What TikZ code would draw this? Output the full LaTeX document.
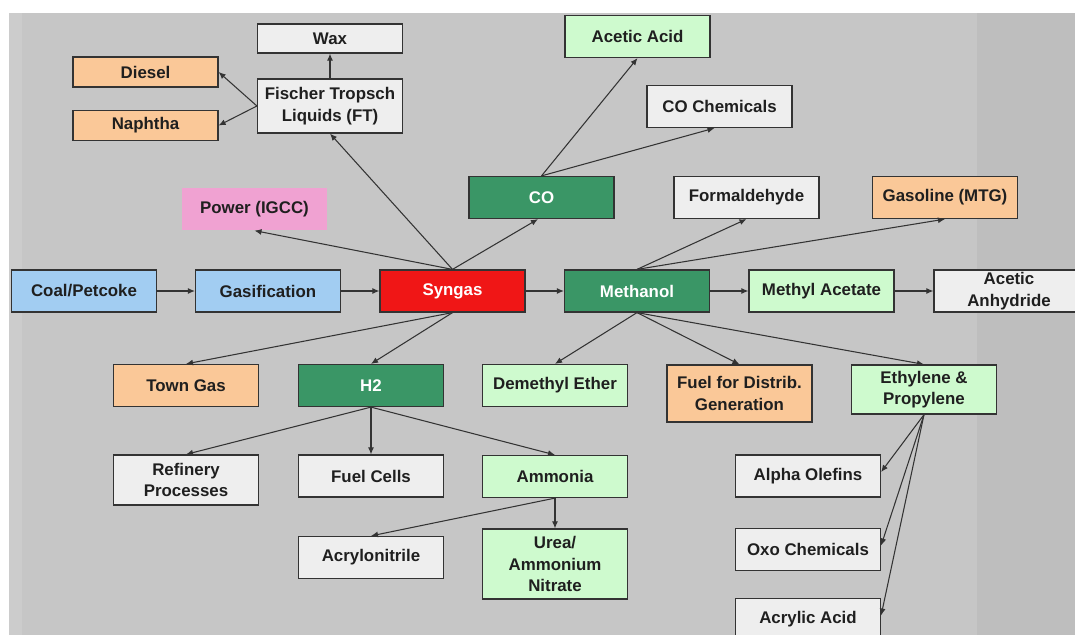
\documentclass[tikz,border=0pt]{standalone}
\usepackage{fontspec}
\setmainfont{Liberation Sans}
\usepackage{tikz}
\usetikzlibrary{arrows.meta}

\definecolor{bgray}{RGB}{198,198,198}
\definecolor{bglight}{RGB}{204,204,204}
\definecolor{bgdark}{RGB}{190,190,190}
\definecolor{feedblue}{RGB}{162,205,242}
\definecolor{peach}{RGB}{250,200,152}
\definecolor{palegreen}{RGB}{206,250,206}
\definecolor{deepgreen}{RGB}{58,150,102}
\definecolor{synred}{RGB}{240,22,22}
\definecolor{powerpink}{RGB}{240,162,210}
\definecolor{offwhite}{RGB}{238,238,238}

\begin{document}
\begin{tikzpicture}[
  x=0.02cm, y=-0.02cm,
  every node/.style={rectangle, draw=black!80, line width=0.7pt, minimum width=2.9cm,
    minimum height=0.84cm, inner sep=1pt, align=center, text=black!88,
    font=\bfseries\fontsize{9.6}{12.3}\selectfont},
  feed/.style={fill=feedblue},
  fuel/.style={fill=peach},
  chem/.style={fill=palegreen},
  hub/.style={fill=deepgreen, text=white},
  plain/.style={fill=offwhite},
  arr/.style={draw=black!80, line width=0.6pt, -{Latex[length=4pt,width=3.4pt]}}
]
\useasboundingbox (0,0) rectangle (1075,635);
\fill[white] (0,0) rectangle (1075,635);
\fill[bgray] (9,13) rectangle (1075,635);
\fill[bglight] (9,13) rectangle (22,635);
\fill[bgdark] (977,13) rectangle (1075,635);

% main line
\node[feed] (coal) at (84,291) {Coal/Petcoke};
\node[feed] (gasif) at (268,291) {Gasification};
\node[fill=synred, text=white] (syngas) at (452.5,291) {Syngas};
\node[hub] (methanol) at (637,291) {Methanol};
\node[chem] (macetate) at (821.5,291) {Methyl Acetate};
\node[plain, minimum width=3cm] (anhydride) at (1009,291) {Acetic\\Anhydride};

% upper branch
\node[draw=none, fill=powerpink] (power) at (254.5,209) {Power (IGCC)};
\node[plain, minimum height=1.08cm] (ft) at (330,106) {Fischer Tropsch\\Liquids (FT)};
\node[plain, minimum height=0.58cm] (wax) at (330,38.5) {Wax};
\node[fuel, minimum height=0.6cm] (diesel) at (145.5,72) {Diesel};
\node[fuel, minimum height=0.6cm] (naphtha) at (145.5,125.5) {Naphtha};
\node[hub] (co) at (541.5,197.5) {CO};
\node[chem] (aceticacid) at (637.5,36.5) {Acetic Acid};
\node[plain] (cochem) at (719.5,106.5) {CO Chemicals};
\node[plain] (formald) at (746.5,197.5) {Formaldehyde};
\node[fuel] (gasoline) at (945,197.5) {Gasoline (MTG)};

% lower branch
\node[fuel] (towngas) at (186,385.5) {Town Gas};
\node[hub] (htwo) at (371,385.5) {H2};
\node[chem] (dme) at (555,385.5) {Demethyl Ether};
\node[fuel, minimum height=1.14cm] (fueldist) at (739.5,393.5) {Fuel for Distrib.\\Generation};
\node[chem, minimum height=0.98cm] (ethylene) at (924,389.5) {Ethylene \&\\Propylene};
\node[plain, minimum height=1.0cm] (refinery) at (186,480) {Refinery\\Processes};
\node[plain] (fuelcells) at (371,476) {Fuel Cells};
\node[chem] (ammonia) at (555,476.5) {Ammonia};
\node[plain] (acrylo) at (371,557.5) {Acrylonitrile};
\node[chem, minimum height=1.4cm] (urea) at (555,564) {Urea/\\Ammonium\\Nitrate};
\node[plain] (alpha) at (808,476) {Alpha Olefins};
\node[plain] (oxo) at (808,549.5) {Oxo Chemicals};
\node[plain] (acrylic) at (808,619.5) {Acrylic Acid};

% connectors
\draw[arr] (coal) -- (gasif);
\draw[arr] (gasif) -- (syngas);
\draw[arr] (syngas) -- (methanol);
\draw[arr] (methanol) -- (macetate);
\draw[arr] (macetate) -- (anhydride);
\draw[arr] (syngas.north) -- (power.south);
\draw[arr] (syngas.north) -- (ft.south);
\draw[arr] (syngas.north) -- ([xshift=-0.7mm]co.south);
\draw[arr] (ft) -- (wax);
\draw[arr] (ft.west) -- (diesel.east);
\draw[arr] (ft.west) -- (naphtha.east);
\draw[arr] (co.north) -- (aceticacid.south);
\draw[arr] (co.north) -- ([xshift=-1mm]cochem.south);
\draw[arr] (methanol.north) -- (formald.south);
\draw[arr] (methanol.north) -- (gasoline.south);
\draw[arr] (syngas.south) -- (towngas.north);
\draw[arr] (syngas.south) -- (htwo.north);
\draw[arr] (methanol.south) -- (dme.north);
\draw[arr] (methanol.south) -- (fueldist.north);
\draw[arr] (methanol.south) -- (ethylene.north);
\draw[arr] (htwo.south) -- (refinery.north);
\draw[arr] (htwo) -- (fuelcells);
\draw[arr] (htwo.south) -- (ammonia.north);
\draw[arr] (ammonia.south) -- (acrylo.north);
\draw[arr] (ammonia) -- (urea);
\draw[arr] (ethylene.south) -- ([yshift=0.8mm]alpha.east);
\draw[arr] (ethylene.south) -- ([yshift=0.8mm]oxo.east);
\draw[arr] (ethylene.south) -- ([yshift=0.8mm]acrylic.east);
\end{tikzpicture}
\end{document}
